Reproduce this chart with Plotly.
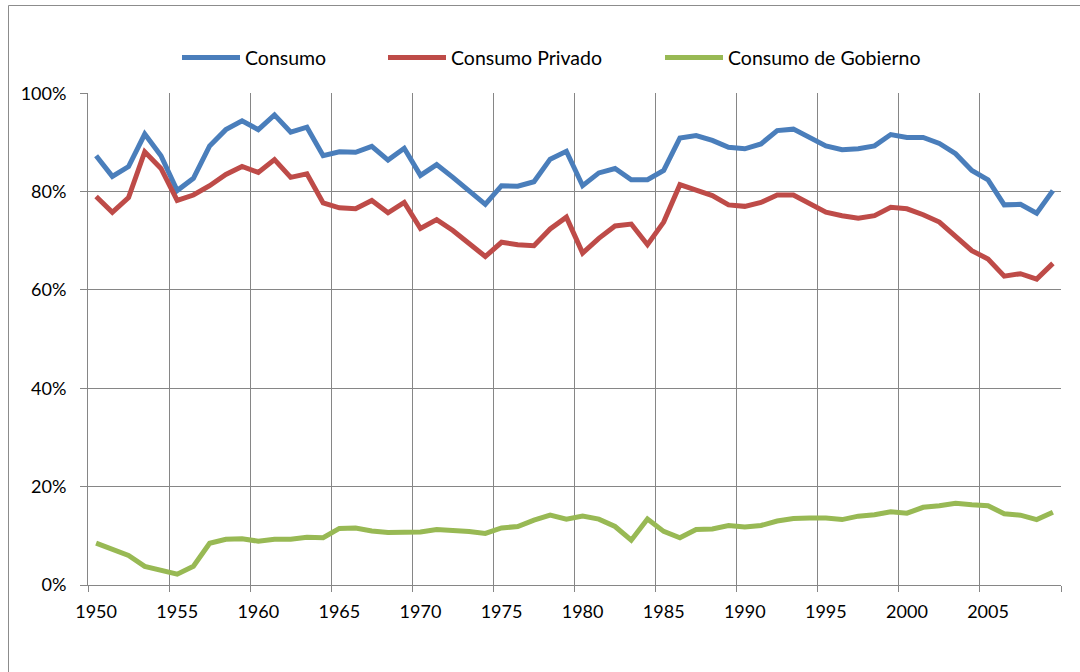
import plotly.graph_objects as go

years = list(range(1950, 2010))

consumo = [87.3, 83.1, 85.1, 91.7, 87.3, 80.2, 82.7, 89.3, 92.6, 94.4,
           92.6, 95.6, 92.1, 93.1, 87.3, 88.1, 88.0, 89.2, 86.4, 88.8,
           83.3, 85.5, 82.9, 80.3, 77.4, 81.2, 81.1, 82.0, 86.6, 88.2,
           81.2, 83.8, 84.7, 82.4, 82.4, 84.3, 90.9, 91.4, 90.4, 89.0,
           88.7, 89.7, 92.4, 92.7, 91.0, 89.3, 88.5, 88.7, 89.3, 91.6,
           91.0, 91.0, 89.8, 87.7, 84.3, 82.4, 77.3, 77.4, 75.6, 80.2]

privado = [79.0, 75.8, 78.8, 88.1, 84.7, 78.2, 79.3, 81.2, 83.5, 85.1,
           83.9, 86.5, 82.9, 83.6, 77.7, 76.7, 76.5, 78.2, 75.7, 77.8,
           72.5, 74.3, 72.1, 69.4, 66.8, 69.7, 69.2, 69.0, 72.4, 74.8,
           67.5, 70.5, 73.0, 73.4, 69.2, 73.8, 81.4, 80.3, 79.2, 77.3,
           77.0, 77.8, 79.3, 79.3, 77.5, 75.8, 75.1, 74.6, 75.1, 76.8,
           76.5, 75.3, 73.8, 70.9, 68.0, 66.3, 62.8, 63.3, 62.2, 65.4]

gobierno = [8.5, 7.2, 6.0, 3.8, 2.9, 2.2, 3.8, 8.5, 9.3, 9.4,
            8.9, 9.3, 9.3, 9.7, 9.6, 11.5, 11.6, 11.0, 10.7, 10.8,
            10.8, 11.3, 11.2, 10.9, 10.5, 11.6, 11.9, 13.2, 14.2, 13.4,
            14.0, 13.4, 11.9, 9.1, 13.4, 10.9, 9.6, 11.3, 11.4, 12.1,
            11.8, 12.1, 13.0, 13.5, 13.6, 13.6, 13.3, 14.0, 14.3, 14.9,
            14.6, 15.8, 16.1, 16.6, 16.3, 16.1, 14.5, 14.2, 13.3, 14.8]

series_names = ["Consumo", "Consumo Privado", "Consumo de Gobierno"]
series_colors = ["#4A7EBB", "#BE4B48", "#98B954"]
x_tick_labels = [str(y) for y in range(1950, 2010, 5)]

FONT = "Lato"
GRID = "#868686"

fig = go.Figure()
legend_ids = ["legend", "legend2", "legend3"]
for name, vals, color, lg in zip(series_names, [consumo, privado, gobierno], series_colors, legend_ids):
    fig.add_trace(go.Scatter(
        x=years, y=[v / 100 for v in vals], mode="lines", name=name,
        line=dict(color=color, width=5), legend=lg,
    ))

W, H = 1080, 672
L, R, T, B = 88, 1061, 93, 585
pw, ph = R - L, B - T

def px_x(p):
    return (p - L) / pw

def px_y(p):
    return (B - p) / ph

legend_common = dict(orientation="h", yanchor="middle", xanchor="left",
                     font=dict(family=FONT, size=19.5, color="#000000"),
                     itemwidth=58, bgcolor="rgba(0,0,0,0)", borderwidth=0,
                     tracegroupgap=0)
legend_line_starts = [183, 389, 666]
fig.update_layout(
    legend=dict(x=px_x(legend_line_starts[0] - 6), y=px_y(57.7), **legend_common),
    legend2=dict(x=px_x(legend_line_starts[1] - 6), y=px_y(57.7), **legend_common),
    legend3=dict(x=px_x(legend_line_starts[2] - 6), y=px_y(57.7), **legend_common),
)

fig.update_layout(
    width=W, height=H,
    margin=dict(l=L, r=W - R, t=T, b=H - B, pad=0),
    paper_bgcolor="white", plot_bgcolor="white",
    font=dict(family=FONT, size=18, color="#000000"),
    showlegend=True,
    xaxis=dict(
        range=[1949.5, 2009.5],
        tickmode="array",
        tickvals=list(range(1950, 2010, 5)),
        ticktext=x_tick_labels,
        ticks="", showgrid=False, zeroline=False,
        showline=True, linecolor=GRID, linewidth=1,
        tickfont=dict(family=FONT, size=18, color="#000000"),
        ticklabelstandoff=10,
        minor=dict(tickmode="linear", tick0=1949.5, dtick=5, showgrid=True,
                   gridcolor=GRID, gridwidth=1, ticks="outside", ticklen=6,
                   tickcolor=GRID, tickwidth=1),
    ),
    yaxis=dict(
        range=[0, 1.0005],
        tickmode="array",
        tickvals=[0, 0.2, 0.4, 0.6, 0.8, 1.0],
        tickformat=".0%",
        showgrid=True, gridcolor=GRID, gridwidth=1, zeroline=False,
        showline=True, linecolor=GRID, linewidth=1,
        ticks="outside", ticklen=7, tickcolor=GRID, tickwidth=1,
        tickfont=dict(family=FONT, size=18, color="#000000"),
        ticklabelstandoff=10,
    ),
    shapes=[dict(type="rect", xref="paper", yref="paper",
                 x0=px_x(8.5), x1=px_x(1095), y0=px_y(690), y1=px_y(5.5),
                 line=dict(color="#8C8C8C", width=1), fillcolor="rgba(0,0,0,0)",
                 layer="below")],
)

fig.write_html("out.html", config={"displayModeBar": False},
               post_script="document.body.style.margin='0px';")
